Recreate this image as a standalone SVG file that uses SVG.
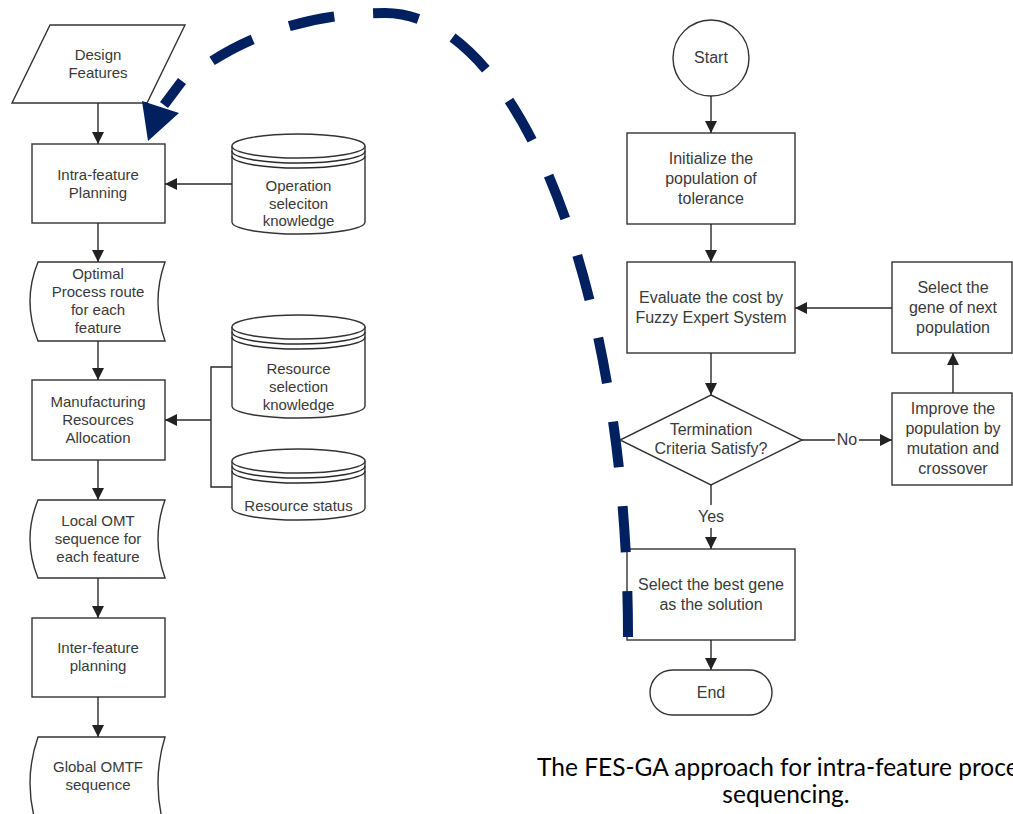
<svg xmlns="http://www.w3.org/2000/svg" width="1013" height="814" viewBox="0 0 1013 814">
  <defs>
    <marker id="ah" viewBox="0 0 12 12" refX="12" refY="6" markerWidth="12" markerHeight="12" markerUnits="userSpaceOnUse" orient="auto">
      <path d="M0,0 L12,6 L0,12 Z" fill="#222"/>
    </marker>
    <style>
      .shape { fill: #fff; stroke: #333; stroke-width: 1.4; }
      .edge { fill: none; stroke: #2a2a2a; stroke-width: 1.4; }
      .arrow { fill: none; stroke: #2a2a2a; stroke-width: 1.4; marker-end: url(#ah); }
      .lt { font-family: "Liberation Sans", Arial, sans-serif; font-size: 15px; fill: #3a3a3a; text-anchor: middle; }
      .rt { font-family: "Liberation Sans", Arial, sans-serif; font-size: 16px; fill: #3a3a3a; text-anchor: middle; }
      .cap { font-family: Lato, "Open Sans", sans-serif; font-size: 24.5px; fill: #000; }
      .loop { fill: none; stroke: #002060; stroke-width: 10; }
    </style>
  </defs>

  <rect width="1013" height="814" fill="#fff"/>

  <!-- Left flow: process planning -->
  <g id="design-features">
    <polygon class="shape" points="50,25 185,25 147,103 12,103"/>
    <text class="lt" x="98" y="60">Design</text>
    <text class="lt" x="98" y="78">Features</text>
  </g>

  <g id="intra-feature-planning">
    <rect class="shape" x="32" y="144" width="133" height="79"/>
    <text class="lt" x="98" y="180">Intra-feature</text>
    <text class="lt" x="98" y="198">Planning</text>
  </g>

  <g id="operation-knowledge">
    <path class="shape" d="M232,146 L232,222 A66.5,12 0 0 0 365,222 L365,146"/>
    <ellipse class="shape" cx="298.5" cy="146" rx="66.5" ry="12"/>
    <path class="edge" d="M232,151 A66.5,12 0 0 0 365,151 M232,156 A66.5,12 0 0 0 365,156"/>
    <text class="lt" x="298.5" y="191">Operation</text>
    <text class="lt" x="298.5" y="209">seleciton</text>
    <text class="lt" x="298.5" y="226">knowledge</text>
  </g>

  <g id="optimal-route">
    <path class="shape" d="M38,262 L165,262 Q151,301.5 165,341 L38,341 Q22,301.5 38,262 Z"/>
    <text class="lt" x="98" y="279">Optimal</text>
    <text class="lt" x="98" y="297">Process route</text>
    <text class="lt" x="98" y="315">for each</text>
    <text class="lt" x="98" y="333">feature</text>
  </g>

  <g id="resource-allocation">
    <rect class="shape" x="32" y="380" width="133" height="80"/>
    <text class="lt" x="98" y="407">Manufacturing</text>
    <text class="lt" x="98" y="425">Resources</text>
    <text class="lt" x="98" y="443">Allocation</text>
  </g>

  <g id="resource-knowledge">
    <path class="shape" d="M232,327 L232,406 A66.5,12 0 0 0 365,406 L365,327"/>
    <ellipse class="shape" cx="298.5" cy="327" rx="66.5" ry="12"/>
    <path class="edge" d="M232,332 A66.5,12 0 0 0 365,332 M232,337 A66.5,12 0 0 0 365,337"/>
    <text class="lt" x="298.5" y="374">Resource</text>
    <text class="lt" x="298.5" y="392">selection</text>
    <text class="lt" x="298.5" y="410">knowledge</text>
  </g>

  <g id="resource-status">
    <path class="shape" d="M232,461 L232,508 A66.5,12 0 0 0 365,508 L365,461"/>
    <ellipse class="shape" cx="298.5" cy="461" rx="66.5" ry="12"/>
    <path class="edge" d="M232,466 A66.5,12 0 0 0 365,466 M232,471 A66.5,12 0 0 0 365,471"/>
    <text class="lt" x="298.5" y="511">Resource status</text>
  </g>

  <g id="local-omt">
    <path class="shape" d="M38,500 L165,500 Q151,539 165,578 L38,578 Q22,539 38,500 Z"/>
    <text class="lt" x="98" y="526">Local OMT</text>
    <text class="lt" x="98" y="544">sequence for</text>
    <text class="lt" x="98" y="562">each feature</text>
  </g>

  <g id="inter-feature-planning">
    <rect class="shape" x="32" y="618" width="133" height="79"/>
    <text class="lt" x="98" y="653">Inter-feature</text>
    <text class="lt" x="98" y="671">planning</text>
  </g>

  <g id="global-omtf">
    <path class="shape" d="M38,737 L165,737 Q151,783 165,830 L38,830 Q22,783 38,737 Z"/>
    <text class="lt" x="98" y="772">Global OMTF</text>
    <text class="lt" x="98" y="790">sequence</text>
  </g>

  <!-- Right flow: FES-GA loop -->
  <g id="start">
    <circle class="shape" cx="711" cy="58" r="38"/>
    <text class="rt" x="711" y="63">Start</text>
  </g>

  <g id="initialize">
    <rect class="shape" x="627" y="133" width="168" height="91"/>
    <text class="rt" x="711" y="164">Initialize the</text>
    <text class="rt" x="711" y="184">population of</text>
    <text class="rt" x="711" y="204">tolerance</text>
  </g>

  <g id="evaluate">
    <rect class="shape" x="627" y="262" width="168" height="91"/>
    <text class="rt" x="711" y="303">Evaluate the cost by</text>
    <text class="rt" x="711" y="323">Fuzzy Expert System</text>
  </g>

  <g id="select-next">
    <rect class="shape" x="892" y="262" width="120" height="91"/>
    <text class="rt" x="953" y="293">Select the</text>
    <text class="rt" x="953" y="313">gene of next</text>
    <text class="rt" x="953" y="333">population</text>
  </g>

  <g id="termination">
    <polygon class="shape" points="711,395 802,440 711,485 620,440"/>
    <text class="rt" x="711" y="435">Termination</text>
    <text class="rt" x="711" y="454">Criteria Satisfy?</text>
  </g>

  <g id="improve">
    <rect class="shape" x="892" y="393" width="120" height="92"/>
    <text class="rt" x="953" y="414">Improve the</text>
    <text class="rt" x="953" y="434">population by</text>
    <text class="rt" x="953" y="454">mutation and</text>
    <text class="rt" x="953" y="474">crossover</text>
  </g>

  <g id="select-best">
    <rect class="shape" x="627" y="549" width="168" height="91"/>
    <text class="rt" x="711" y="590">Select the best gene</text>
    <text class="rt" x="711" y="610">as the solution</text>
  </g>

  <g id="end">
    <rect class="shape" x="650" y="670" width="122" height="45" rx="22.5" ry="22.5"/>
    <text class="rt" x="711" y="698">End</text>
  </g>

  <!-- Connectors -->
  <g id="connectors">
    <line class="arrow" x1="98" y1="103" x2="98" y2="144"/>
    <line class="arrow" x1="232" y1="184" x2="165" y2="184"/>
    <line class="arrow" x1="98" y1="223" x2="98" y2="262"/>
    <line class="arrow" x1="98" y1="341" x2="98" y2="380"/>
    <path class="edge" d="M232,367 H211 V487 H232"/>
    <line class="arrow" x1="211" y1="420" x2="165" y2="420"/>
    <line class="arrow" x1="98" y1="460" x2="98" y2="500"/>
    <line class="arrow" x1="98" y1="578" x2="98" y2="618"/>
    <line class="arrow" x1="98" y1="697" x2="98" y2="737"/>

    <line class="arrow" x1="711" y1="96" x2="711" y2="133"/>
    <line class="arrow" x1="711" y1="224" x2="711" y2="262"/>
    <line class="arrow" x1="892" y1="308" x2="795" y2="308"/>
    <line class="arrow" x1="711" y1="353" x2="711" y2="395"/>
    <line class="edge" x1="802" y1="440" x2="835" y2="440"/>
    <text class="rt" x="847" y="445">No</text>
    <line class="arrow" x1="859" y1="440" x2="892" y2="440"/>
    <line class="arrow" x1="953" y1="393" x2="953" y2="353"/>
    <line class="edge" x1="711" y1="485" x2="711" y2="505"/>
    <text class="rt" x="711" y="522">Yes</text>
    <line class="arrow" x1="711" y1="528" x2="711" y2="549"/>
    <line class="arrow" x1="711" y1="640" x2="711" y2="670"/>
  </g>

  <!-- Dashed feedback arc into intra-feature planning -->
  <g id="feedback-arc">
    <path class="loop" d="M628,637 A243,624 0 0 0 385,13 C310,13 240,35 183,82" stroke-dasharray="46 39"/>
    <path class="loop" d="M182,81 L164,105"/>
    <polygon points="142,101 179,113 148,141" fill="#002060"/>
  </g>

  <!-- Caption -->
  <g id="caption">
    <text class="cap" x="537" y="776">The FES-GA approach for intra-feature proce</text>
    <text class="cap" x="786" y="803" text-anchor="middle">sequencing.</text>
  </g>
</svg>
